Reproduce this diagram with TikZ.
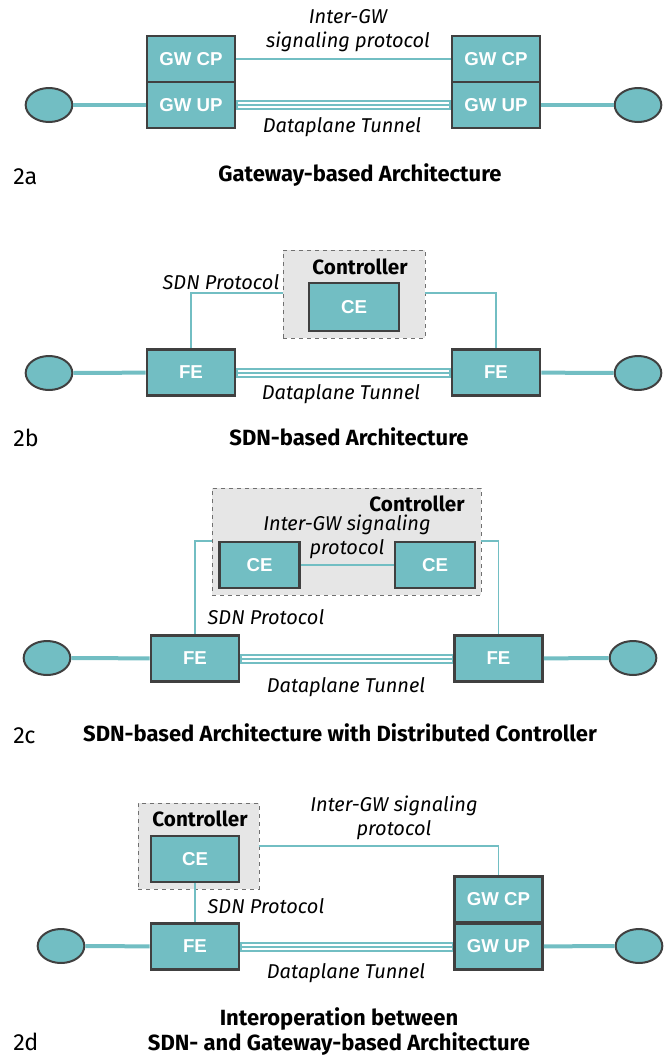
\documentclass[tikz,border=0pt]{standalone}
\usepackage{fontspec}
\setmainfont{Fira Sans}
\newfontfamily\boxfont{Liberation Sans}
\definecolor{tealc}{HTML}{72BEC3}
\definecolor{boxgray}{HTML}{404040}
\definecolor{ctrlfill}{HTML}{E6E6E6}
\definecolor{ctrlline}{HTML}{707070}
\usetikzlibrary{shapes.geometric}
\tikzset{
  elem/.style={draw=boxgray, line width=2.2pt, fill=tealc, text=white,
    font=\boxfont\bfseries\fontsize{14}{16}\selectfont,
    minimum width=66pt, minimum height=34.5pt, inner sep=0pt},
  smallelem/.style={elem, minimum width=60pt},
  term/.style={draw=boxgray, line width=1.5pt, fill=tealc, ellipse,
    minimum width=35pt, minimum height=25.5pt, inner sep=0pt},
  ctrl/.style={draw=ctrlline, dashed, line width=0.6pt, fill=ctrlfill},
  access/.style={draw=tealc, line width=3pt},
  sig/.style={draw=tealc, line width=1.1pt},
  lab/.style={font=\itshape\fontsize{15}{18}\selectfont, inner sep=0pt, align=center},
  ctrllab/.style={font=\bfseries\fontsize{15.5}{18}\selectfont, inner sep=0pt},
  captext/.style={font=\bfseries\fontsize{16.5}{19}\selectfont, inner sep=0pt, align=center},
  figlab/.style={font=\fontsize{17.5}{20}\selectfont, inner sep=0pt, anchor=west},
}
\newcommand{\tunnel}[2]{%
  \draw[tealc, line width=7.5pt] (#1.east) -- (#2.west);
  \draw[white, line width=4.5pt] ([xshift=0.8pt]#1.east) -- ([xshift=-0.8pt]#2.west);
  \draw[tealc, line width=1.5pt] (#1.east) -- (#2.west);}
\begin{document}
\begin{tikzpicture}[x=0.75pt, y=-0.75pt]
\useasboundingbox (0,0) rectangle (670,1057);

% ---------------- 2a ----------------
\node[elem] (acpL) at (191,59) {GW CP};
\node[elem] (aupL) at (191,105) {GW UP};
\node[elem] (acpR) at (496,59) {GW CP};
\node[elem] (aupR) at (496,105) {GW UP};
\node[term] (aeL) at (49,105) {};
\node[term] (aeR) at (638,105) {};
\draw[access] (aeL) -- (aupL);
\draw[access] (aupR) -- (aeR);
\draw[sig] (acpL) -- (acpR);
\tunnel{aupL}{aupR}
\node[lab] (asig) at (348,31) {Inter-GW\\signaling protocol};
\node[lab] (atun) at (342,127) {Dataplane Tunnel};
\node[figlab] (a2) at (13,177) {2a};
\node[captext] (acap) at (360,175) {Gateway-based Architecture};

% ---------------- 2b ----------------
\node[ctrl, minimum width=106.5pt, minimum height=66pt] (bctrl) at (354,294) {};
\node[ctrllab] (bctrlt) at (360,267) {Controller};
\node[elem, minimum width=67.5pt, minimum height=36pt] (bce) at (354,307) {CE};
\node[elem] (bfeL) at (191,372.5) {FE};
\node[elem] (bfeR) at (496,372.5) {FE};
\node[term] (beL) at (49,373) {};
\node[term] (beR) at (638,373) {};
\draw[access] (beL) -- (bfeL);
\draw[access] (bfeR) -- (beR);
\coordinate (bl) at (bctrl.west |- 0,293);
\coordinate (br) at (bctrl.east |- 0,293);
\draw[sig] (bfeL.north) |- (bl);
\draw[sig] (bfeR.north) |- (br);
\tunnel{bfeL}{bfeR}
\node[lab] (bsdn) at (221,282) {SDN Protocol};
\node[lab] (btun) at (341,394) {Dataplane Tunnel};
\node[figlab] (b2) at (13,438) {2b};
\node[captext] (bcap) at (349,437) {SDN-based Architecture};

% ---------------- 2c ----------------
\node[ctrl, minimum width=201.75pt, minimum height=80.25pt] (cctrl) at (346.5,541.5) {};
\node[ctrllab] (cctrlt) at (417,504) {Controller};
\node[smallelem] (cceL) at (259.5,565) {CE};
\node[smallelem] (cceR) at (435,565) {CE};
\draw[sig] (cceL) -- (cceR);
\node[lab] (csig) at (347,536.5) {Inter-GW signaling\\protocol};
\node[elem] (cfeL) at (195,658.5) {FE};
\node[elem] (cfeR) at (498.5,658.5) {FE};
\node[term] (ceL) at (47,658) {};
\node[term] (ceR) at (633,658) {};
\draw[access] (ceL) -- (cfeL);
\draw[access] (cfeR) -- (ceR);
\coordinate (cl) at (cctrl.west |- 0,541);
\coordinate (cr) at (cctrl.east |- 0,541);
\draw[sig] (cfeL.north) |- (cl);
\draw[sig] (cfeR.north) |- (cr);
\tunnel{cfeL}{cfeR}
\node[lab] (csdn) at (266,617) {SDN Protocol};
\node[lab] (ctun) at (346,687) {Dataplane Tunnel};
\node[figlab] (c2) at (13,736) {2c};
\node[captext] (ccap) at (340,733) {SDN-based Architecture with Distributed Controller};

% ---------------- 2d ----------------
\node[ctrl, minimum width=90.75pt, minimum height=64.5pt] (dctrl) at (198.5,846) {};
\node[ctrllab] (dctrlt) at (200,819) {Controller};
\node[elem] (dce) at (195,859) {CE};
\node[elem] (dfe) at (195,946.5) {FE};
\node[elem] (dcp) at (498.5,899.5) {GW CP};
\node[elem] (dup) at (498.5,946.5) {GW UP};
\node[term] (deL) at (61,946) {};
\node[term] (deR) at (639,946) {};
\draw[access] (deL) -- (dfe);
\draw[access] (dup) -- (deR);
\draw[sig] (dce) -- (dfe);
\draw[sig] (dctrl.east) -| (dcp.north);
\tunnel{dfe}{dup}
\node[lab] (dsig) at (394,818) {Inter-GW signaling\\protocol};
\node[lab] (dsdn) at (266,906) {SDN Protocol};
\node[lab] (dtun) at (346,973) {Dataplane Tunnel};
\node[figlab] (d2) at (13,1042) {2d};
\node[captext] (dcap) at (339,1031.5) {Interoperation between\\SDN- and Gateway-based Architecture};
\end{tikzpicture}
\end{document}
